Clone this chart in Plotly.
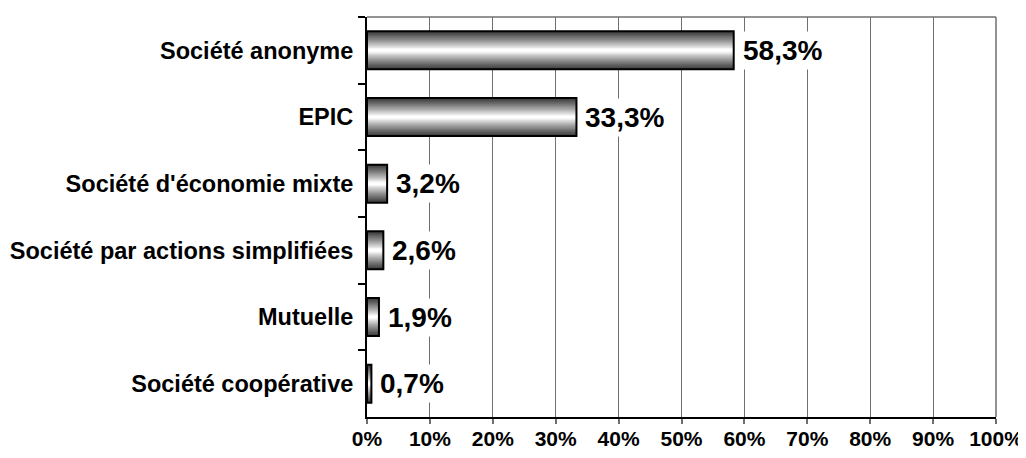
import plotly.graph_objects as go

categories = ["Société anonyme", "EPIC", "Société d'économie mixte",
              "Société par actions simplifiées", "Mutuelle", "Société coopérative"]
values = [58.3, 33.3, 3.2, 2.6, 1.9, 0.7]
tick_values = [0, 10, 20, 30, 40, 50, 60, 70, 80, 90, 100]
tick_labels = ["0%", "10%", "20%", "30%", "40%", "50%", "60%", "70%", "80%", "90%", "100%"]

FONT = "Liberation Sans, Arial, sans-serif"
BAR_W = 0.57
N_LAYERS = 16

fig = go.Figure()

# gradient fill emulated by nested overlaid bars (dark edges -> white centre)
for k in range(N_LAYERS):
    f = 1.0 - k / N_LAYERS
    if f > 0.1:
        t = ((f - 0.1) / 0.9) ** 0.85
        g = int(round(255 - (255 - 60) * t))
    else:
        g = 255
    fig.add_trace(go.Bar(
        y=categories, x=values, orientation="h",
        width=[BAR_W * f] * len(values),
        marker=dict(color=f"rgb({g},{g},{g})", line=dict(width=0)),
        hoverinfo="skip", showlegend=False,
    ))

# outline
fig.add_trace(go.Bar(
    y=categories, x=values, orientation="h",
    width=[BAR_W] * len(values),
    marker=dict(color="rgba(0,0,0,0)", line=dict(color="black", width=2)),
    showlegend=False,
))

# value labels with white background
for c, v in zip(categories, values):
    fig.add_annotation(
        x=v, y=c, xref="x", yref="y",
        text=f"{v:.1f}%".replace(".", ","),
        showarrow=False, xanchor="left", xshift=5,
        font=dict(family=FONT, size=28, color="black", weight="bold"),
        bgcolor="white", borderpad=3,
    )

# top and right frame lines
fig.add_shape(type="line", xref="paper", yref="paper", x0=0, x1=1, y0=1, y1=1,
              line=dict(color="#6f6f6f", width=1.5))
fig.add_shape(type="line", xref="paper", yref="paper", x0=1, x1=1, y0=0, y1=1,
              line=dict(color="#6f6f6f", width=1.5))

# the page body has an 8px default margin, so the figure is sized to fit the rest
fig.update_layout(
    width=1018, height=450,
    margin=dict(l=359, r=30, t=9, b=41, autoexpand=False),
    paper_bgcolor="white", plot_bgcolor="white",
    barmode="overlay",
    font=dict(family=FONT, color="black"),
    xaxis=dict(
        range=[0, 100], tickvals=tick_values, ticktext=tick_labels,
        showgrid=True, gridcolor="#6f6f6f", gridwidth=1.2,
        showline=True, linecolor="black", linewidth=2,
        ticks="outside", ticklen=5, tickcolor="#6f6f6f", tickwidth=1.5,
        tickfont=dict(family=FONT, size=21, color="black", weight="bold"),
        zeroline=False, fixedrange=True, automargin=False,
        ticklabelstandoff=-3,
    ),
    yaxis=dict(
        categoryorder="array", categoryarray=categories, autorange="reversed",
        showline=True, linecolor="black", linewidth=2,
        ticks="outside", ticklen=7, tickcolor="black", tickwidth=1.5,
        tickson="boundaries", showgrid=False, automargin=False,
        tickfont=dict(family=FONT, size=23.5, color="black", weight="bold"),
        ticklabelstandoff=7,
    ),
)

fig.write_html("out.html")
